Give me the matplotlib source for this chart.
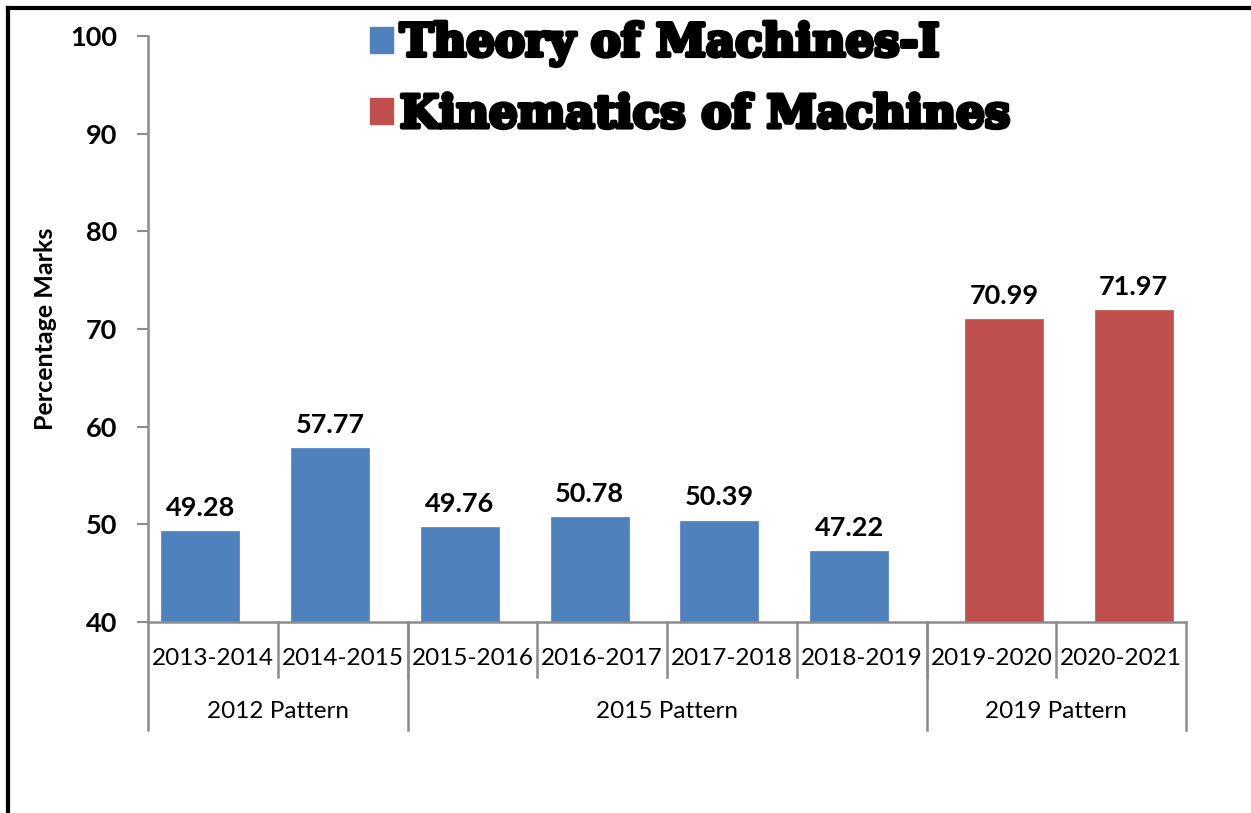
import matplotlib
matplotlib.use("Agg")
from matplotlib import pyplot
from matplotlib.patches import Patch
from matplotlib.lines import Line2D
from matplotlib import patheffects
import numpy as np

years = ["2013-2014", "2014-2015", "2015-2016", "2016-2017",
         "2017-2018", "2018-2019", "2019-2020", "2020-2021"]
theory_vals = [49.28, 57.77, 49.76, 50.78, 50.39, 47.22, None, None]
kinematics_vals = [None, None, None, None, None, None, 70.99, 71.97]
groups = ["2012 Pattern", "2015 Pattern", "2019 Pattern"]
group_sizes = [2, 4, 2]
series_labels = ["Theory of Machines-I", "Kinematics of Machines"]

BLUE = "#4F81BD"
RED = "#C0504D"
GREY = "#8c8c8c"
FONT = ["Lato", "DejaVu Sans"]

fig = pyplot.figure(figsize=(12.51, 8.13), dpi=100)
ax = fig.add_axes([148 / 1251, 1 - 622 / 813, 1038 / 1251, 586 / 813])

x = np.arange(len(years))
width = 0.6
offset = 0.096

for vals, color, shift in [(theory_vals, BLUE, -offset), (kinematics_vals, RED, offset)]:
    xs = [x[i] + shift for i, v in enumerate(vals) if v is not None]
    hs = [v for v in vals if v is not None]
    ax.bar(xs, hs, width=width, color=color, edgecolor=color, linewidth=0.5, zorder=2)
    for xi, h in zip(xs, hs):
        ax.annotate(f"{h:.2f}", xy=(xi, h), xytext=(0, 8), textcoords="offset points",
                    ha="center", va="bottom", fontsize=19.5, fontweight="bold", family=FONT)

ax.set_xlim(-0.5, len(years) - 0.5)
ax.set_ylim(40, 100)
ax.set_yticks(range(40, 101, 10))
ax.set_yticklabels([str(v) for v in range(40, 101, 10)], fontsize=19.5, fontweight="bold", family=FONT)
ax.tick_params(axis="y", direction="out", length=8, width=1.5, color=GREY, pad=14)
ax.set_xticks([])
for s in ["top", "right"]:
    ax.spines[s].set_visible(False)
for s in ["left", "bottom"]:
    ax.spines[s].set_color(GREY)
    ax.spines[s].set_linewidth(1.8)
ax.set_ylabel("Percentage Marks", fontsize=18, fontweight="bold", family=FONT, labelpad=10)

# multi-level category axis
trans = ax.get_xaxis_transform()
for i, label in enumerate(years):
    ax.text(i, -0.062, label, transform=trans, ha="center", va="center", fontsize=17.5, family=FONT)
for b in range(1, len(years)):
    ax.plot([b - 0.5, b - 0.5], [0, -0.094], transform=trans, color=GREY, lw=1.8, clip_on=False)
start = 0
bounds = [-0.5]
for g, n in zip(groups, group_sizes):
    ax.text(start + (n - 1) / 2, -0.153, g, transform=trans, ha="center", va="center", fontsize=17.5, family=FONT)
    start += n
    bounds.append(start - 0.5)
for b in bounds:
    ax.plot([b, b], [0, -0.184], transform=trans, color=GREY, lw=1.8, clip_on=False)

# legend
handles = [Patch(facecolor=BLUE, edgecolor=BLUE), Patch(facecolor=RED, edgecolor=RED)]
leg = fig.legend(handles, series_labels, loc="upper left", bbox_to_anchor=(370 / 1251, 1 - 22 / 813),
                 frameon=False, borderpad=0, borderaxespad=0,
                 handlelength=0.51, handleheight=0.51, handletextpad=0.15,
                 labelspacing=0.62,
                 prop={"family": "DejaVu Serif", "weight": "bold", "size": 32.5})
for t in leg.get_texts():
    t.set_path_effects([patheffects.withStroke(linewidth=3, foreground="black")])

# border
fig.add_artist(Line2D([8 / 1251, 1], [1 - 8.5 / 813, 1 - 8.5 / 813], color="black", lw=3, transform=fig.transFigure))
fig.add_artist(Line2D([8 / 1251, 8 / 1251], [0, 1 - 8.5 / 813], color="black", lw=3, transform=fig.transFigure))

fig.savefig("out.png", dpi=100)
